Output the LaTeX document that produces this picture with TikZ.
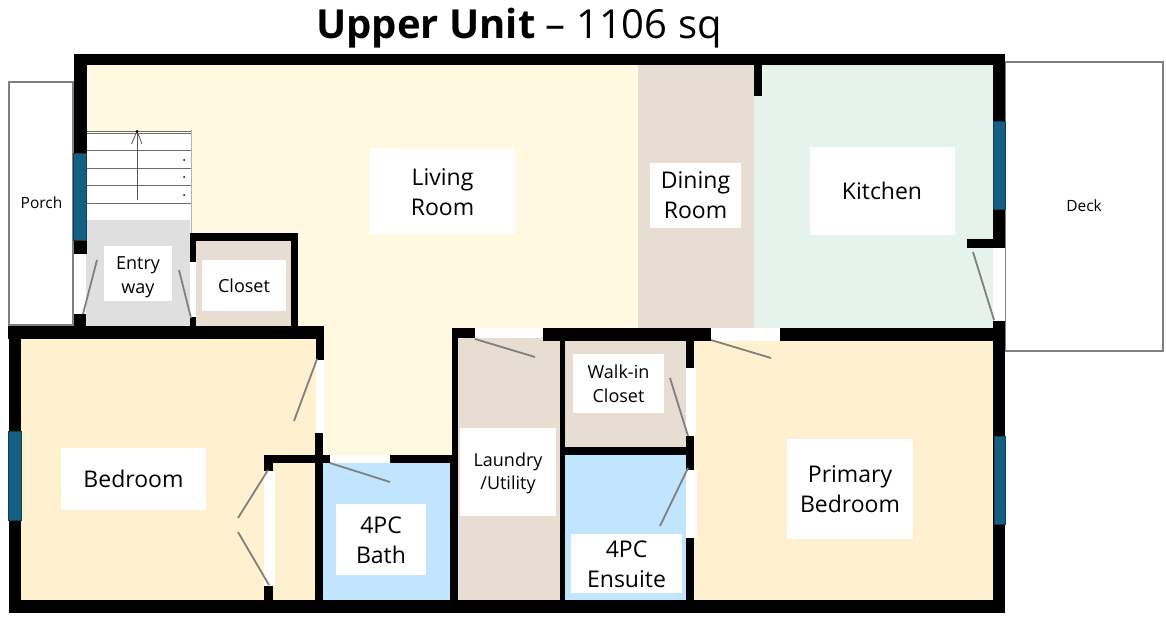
\documentclass[tikz,border=0pt]{standalone}
\usepackage{fontspec}
\setmainfont{Open Sans}
\definecolor{livingfill}{HTML}{FFF9E1}
\definecolor{bedfill}{HTML}{FFF0CF}
\definecolor{closetfill}{HTML}{E8DDD2}
\definecolor{kitchenfill}{HTML}{E6F2EC}
\definecolor{bathfill}{HTML}{C1E5FF}
\definecolor{entryfill}{HTML}{DFDFDF}
\definecolor{windowfill}{HTML}{156082}
\definecolor{windowline}{HTML}{0F3F56}
\definecolor{swingline}{HTML}{808080}
\newcommand{\droptext}[1]{\rule{0pt}{#1pt}}
\tikzset{
  wall/.style={fill=black},
  gap/.style={fill=white},
  swing/.style={draw=swingline,line width=1.8pt},
  glass/.style={fill=windowfill,draw=windowline,line width=1pt},
  outdoor/.style={draw=swingline,line width=1.6pt,fill=white},
  tread/.style={draw=swingline!85!black,line width=1pt},
  bigroom/.style={fill=white,inner sep=0pt,align=center,font=\fontsize{23}{30}\selectfont},
  smallroom/.style={fill=white,inner sep=0pt,align=center,font=\fontsize{18}{23.5}\selectfont},
  plainlabel/.style={inner sep=0pt,font=\fontsize{15.5}{18}\selectfont}
}
\begin{document}
\begin{tikzpicture}[x=1pt,y=-1pt]
\useasboundingbox (0,0) rectangle (1166,617);
\fill [white] (0,0) rectangle (1166,617);
\draw [outdoor] (9,82) rectangle (73,325);
\draw [outdoor] (1005,62) rectangle (1163,351);
\fill [livingfill] (87,65) -- (638,65) -- (638,328) -- (452,328) -- (452,455) -- (324,455) -- (324,326) -- (87,326) -- cycle;
\fill [closetfill] (638,65) rectangle (754,328);
\fill [kitchenfill] (754,65) rectangle (993,328);
\fill [white] (87,131) rectangle (191,220);
\fill [entryfill] (86,220) rectangle (190,326);
\fill [closetfill] (196,241) rectangle (291,326);
\fill [bedfill] (21,339) rectangle (316,600);
\fill [bathfill] (323,463) rectangle (450,600);
\fill [closetfill] (458,338) rectangle (560,600);
\fill [closetfill] (565,341) rectangle (686,447);
\fill [bathfill] (565,455) rectangle (686,600);
\fill [bedfill] (694,341) rectangle (993,600);
\draw [tread] (87,131.5) -- (191,131.5);
\draw [tread] (87,134) -- (191,134);
\draw [tread] (87,151) -- (191,151);
\draw [tread] (87,168.5) -- (191,168.5);
\draw [tread] (87,186) -- (191,186);
\draw [tread] (87,204) -- (191,204);
\draw [swingline!60,line width=0.8pt] (191,130) -- (191,233);
\draw [swingline!70!black,line width=1pt] (137,200) -- (137,131);
\draw [swingline!70!black,line width=0.8pt] (131.5,144) -- (137,131) -- (142,144);
\fill [black] (137,131.5) circle (1.5);
\fill [black] (184,160) circle (1);
\fill [black] (184,177) circle (1);
\fill [black] (184,195) circle (1);
\fill [wall] (74,54) rectangle (1005,65);
\fill [wall] (74,54) rectangle (87,254);
\fill [wall] (74,314) rectangle (86,326);
\fill [wall] (753.5,65) rectangle (761.5,96);
\fill [wall] (993,54) rectangle (1005,248);
\fill [wall] (967,239) rectangle (1005,248);
\fill [wall] (993,321) rectangle (1005,613);
\fill [wall] (190,233) rectangle (298,241);
\fill [wall] (291,233) rectangle (298,326);
\fill [wall] (190,233) rectangle (196,262);
\fill [wall] (190,317) rectangle (196,326);
\fill [wall] (8,326) rectangle (324,339);
\fill [wall] (9,326) rectangle (21,613);
\fill [wall] (9,600) rectangle (1005,613);
\fill [wall] (316,326) rectangle (324,360);
\fill [wall] (315,433) rectangle (323,600);
\fill [wall] (264,455) rectangle (330,463);
\fill [wall] (390,455) rectangle (458,463);
\fill [wall] (264,455) rectangle (273,471);
\fill [wall] (264,586) rectangle (273,600);
\fill [wall] (452,328) rectangle (475,338);
\fill [wall] (543,328) rectangle (711,341);
\fill [wall] (780,328) rectangle (1005,341);
\fill [wall] (452,328) rectangle (458,600);
\fill [wall] (450,455) rectangle (458,600);
\fill [wall] (560,328) rectangle (565,600);
\fill [wall] (560,447) rectangle (694,455);
\fill [wall] (686,341) rectangle (694,368);
\fill [wall] (686,436) rectangle (694,470);
\fill [wall] (686,538) rectangle (694,600);
\fill [gap] (74,254) rectangle (86,314);
\fill [gap] (190,262) rectangle (196,317);
\fill [gap] (316,360) rectangle (324,433);
\fill [gap] (264,471) rectangle (275,586);
\fill [gap] (475,328) rectangle (543,338);
\fill [gap] (711,328) rectangle (780,341);
\fill [gap] (686,368) rectangle (696,436);
\fill [gap] (686,470) rectangle (697,538);
\fill [gap] (993,248) rectangle (1005,321);
\draw [glass] (73.5,153.5) rectangle (86,241);
\draw [glass] (8.5,431.5) rectangle (21,520);
\draw [glass] (993,121.5) rectangle (1005,209.5);
\draw [glass] (994,436.5) rectangle (1005,524);
\draw [swing] (83,314) -- (97,260);
\draw [swing] (179,270) -- (191,318);
\draw [swing] (973,252) -- (994,320);
\draw [swing] (317,359) -- (294,421);
\draw [swing] (268,470) -- (238,518);
\draw [swing] (238,532) -- (269,585);
\draw [swing] (330,463) -- (390,482);
\draw [swing] (475,339) -- (535,357);
\draw [swing] (670,378) -- (688,436);
\draw [swing] (688,468) -- (660,526);
\draw [swing] (711,340) -- (771,358);
\node (title) [inner sep=0pt,font=\fontsize{40}{46}\selectfont] at (519,28) {\textbf{Upper Unit} -- 1106 sq};
\node (porch) [plainlabel] at (41.5,203) {Porch};
\node (deck) [plainlabel] at (1084,206) {Deck};
\node (living) [bigroom,minimum width=145pt,minimum height=86pt] at (442.5,191) {\droptext{19.5}Living\\Room};
\node (dining) [bigroom,minimum width=91pt,minimum height=65pt] at (695.5,195.5) {Dining\\Room};
\node (kitchen) [bigroom,minimum width=145pt,minimum height=88pt] at (882,191) {Kitchen};
\node (entry) [smallroom,minimum width=68pt,minimum height=55pt] at (138,273.5) {\droptext{20}Entry\\way};
\node (closet) [smallroom,minimum width=84pt,minimum height=51pt] at (244,285.5) {Closet};
\node (bedroom) [bigroom,minimum width=145pt,minimum height=62pt] at (133.5,479) {Bedroom};
\node (bath) [bigroom,minimum width=90pt,minimum height=71pt] at (381,539.5) {\droptext{18}4PC\\Bath};
\node (laundry) [smallroom,minimum width=96pt,minimum height=88pt] at (508,472) {\droptext{16.7}Laundry\\/Utility};
\node (walkin) [smallroom,minimum width=91pt,minimum height=59pt] at (618.5,383.5) {\droptext{14.5}Walk-in\\Closet};
\node (ensuite) [bigroom,minimum width=111pt,minimum height=59pt] at (626.5,563.5) {\droptext{17.5}4PC\\Ensuite};
\node (primary) [bigroom,minimum width=126pt,minimum height=100pt] at (850,489) {Primary\\Bedroom};
\end{tikzpicture}
\end{document}
